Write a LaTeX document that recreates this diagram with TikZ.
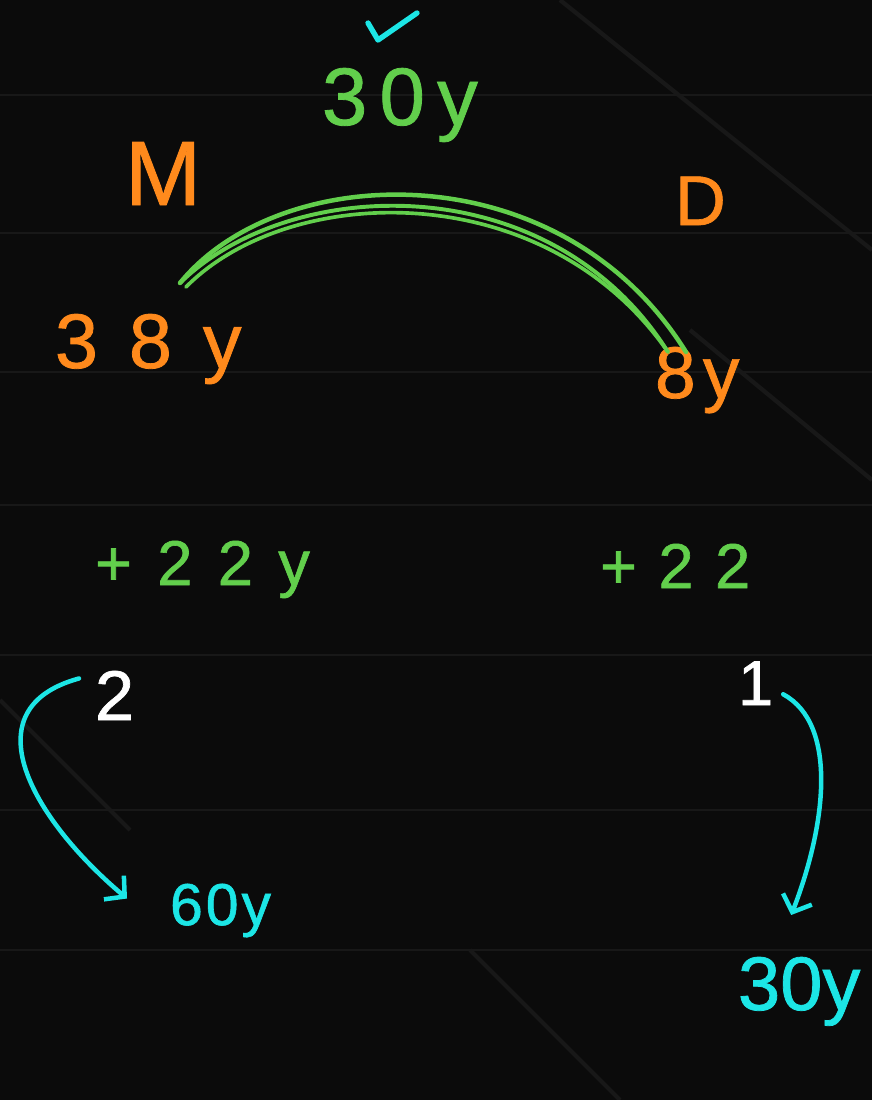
\documentclass[tikz,border=0pt]{standalone}
\usepackage{fontspec}
\setmainfont{Liberation Sans}
\usetikzlibrary{arrows.meta, positioning, calc}

\begin{document}
\begin{tikzpicture}[
    % pixel coordinates of the board: 872 wide, 1100 tall, y downwards
    x=0.025cm, y=-0.025cm,
    every node/.style={inner sep=0pt, outer sep=0pt},
]

% ---------------------------------------------------------------- colours
\definecolor{board}{HTML}{0B0B0B}
\definecolor{streak}{HTML}{181818}
\definecolor{inkgreen}{HTML}{62CF4C}
\definecolor{inkorange}{HTML}{FF8A1C}
\definecolor{inkcyan}{HTML}{1CE6E6}
\definecolor{inkwhite}{HTML}{FFFFFF}

\tikzset{
    hand/.style 2 args={anchor=base west,
        font=\fontsize{#1}{#1}\selectfont\addfontfeatures{LetterSpace=#2, FakeBold=1}},
    bond/.style={inkgreen, line width=3.2pt, line cap=round},
    jump/.style={inkcyan, line width=3.2pt, line cap=round,
                 -{Straight Barb[length=10pt, width=22pt, line width=3.2pt]}},
    tick/.style={inkcyan, line width=3.8pt, line cap=round, line join=round},
}

% ---------------------------------------------------------------- board
\useasboundingbox (0,0) rectangle (872,1100);
\fill[board] (0,0) rectangle (872,1100);
\foreach \yy in {95, 233, 372, 505, 655, 810, 950} {
    \draw[streak, line width=2pt] (0,\yy) -- (872,\yy);
}
\draw[streak, line width=3pt] (560,0) -- (872,250);
\draw[streak, line width=3pt] (0,700) -- (130,830);
\draw[streak, line width=3pt] (470,950) -- (620,1100);
\draw[streak, line width=3pt] (690,330) -- (872,480);

% ---------------------------------------------------------------- top
\draw[tick] (368,23) -- (378,40) -- (417,13);
\node[hand={58}{15}, text=inkgreen] (sum) at (322,125) {30y};

\node[hand={65}{0}, text=inkorange] (mom) at (125,205) {M};
\node[hand={50}{0}, text=inkorange] (dau) at (675,225) {D};

\node[hand={55}{40}, text=inkorange] (age38) at (55,368) {38y};
\node[hand={52}{10}, text=inkorange] (age8) at (655,398) {8y};

% the age gap, drawn three times over
\coordinate (arcL) at (180,283);
\coordinate (arcL2) at (186,287);
\coordinate (arcR) at (686,352);
\coordinate (arcR2) at (668,352);
\draw[bond] (arcL) .. controls (280,160) and (560,150) .. (arcR);
\draw[bond, line width=2.8pt] (arcL) .. controls (290,175) and (550,165) .. (arcR2);
\draw[bond, line width=2.6pt] (arcL2) .. controls (290,182) and (545,175) .. (arcR2);

% ---------------------------------------------------------------- + 22 years
\node[hand={45}{40}, text=inkgreen] (plus1) at (95,585) {+22y};
\node[hand={45}{34}, text=inkgreen] (plus2) at (600,588) {+22};

\node[hand={50}{0}, text=inkwhite] (two) at (95,720) {2};
\node[hand={45}{0}, text=inkwhite] (one) at (738,705) {1};

% ---------------------------------------------------------------- results
\node[hand={42}{5}, text=inkcyan] (sixty) at (170,925) {60y};
\node[hand={54}{0}, text=inkcyan] (thirty) at (738,1010) {30y};

\draw[jump] ([shift={(-16,-17)}]two.west)
    .. controls +(-110,30) and +(-95,-80) .. ([shift={(-43,-12)}]sixty.west);
\draw[jump] ([shift={(10,11)}]one.east)
    .. controls +(55,30) and +(35,-90) .. ([shift={(-8,-42)}]thirty.north);

\end{tikzpicture}
\end{document}
